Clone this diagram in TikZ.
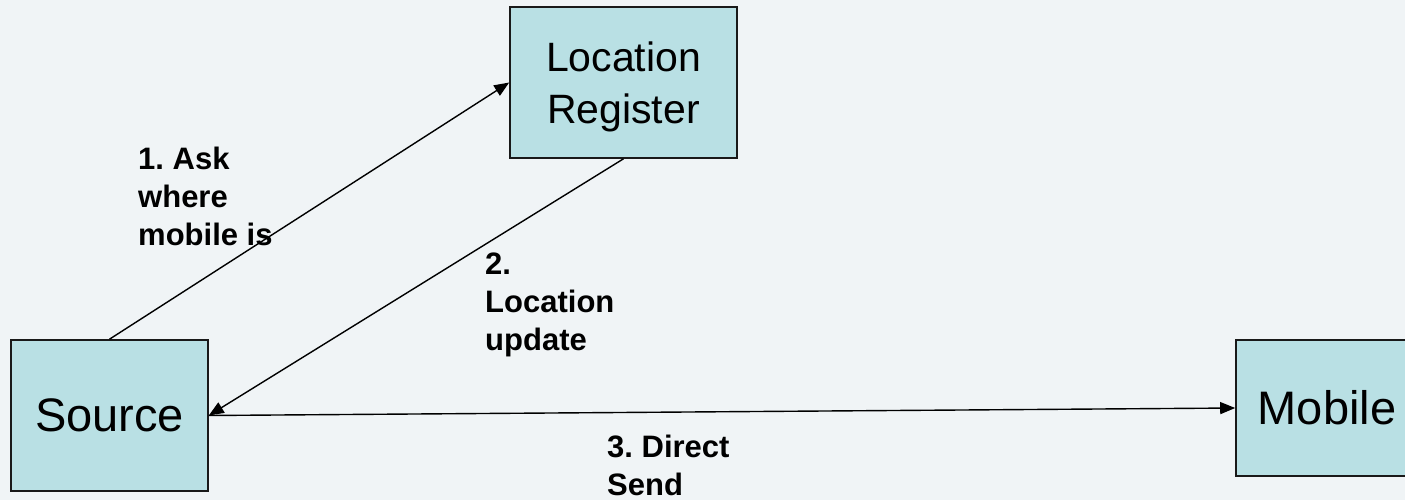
\documentclass[tikz,border=0pt]{standalone}
\usepackage{fontspec}
\setmainfont{Liberation Sans}
\usetikzlibrary{arrows.meta}
\definecolor{bgcol}{RGB}{240,244,246}
\definecolor{boxfill}{RGB}{185,224,228}
\frenchspacing
\begin{document}
\begin{tikzpicture}[x=1pt,y=-1pt,
  block/.style={draw=black!90, line width=1.6pt, fill=boxfill, inner sep=0pt,
    align=center, text=black},
  conn/.style={line width=1.4pt, -{Triangle[length=15pt,width=12pt]}},
  lbl/.style={anchor=north west, inner sep=0pt, align=left,
    font=\bfseries\fontsize{31}{38}\selectfont}]
  % canvas
  \fill[bgcol] (0,0) rectangle (1405,500);
  \useasboundingbox (0,0) rectangle (1405,500);
  \clip (0,0) rectangle (1405,500);

  % entities
  \node[block, minimum width=197pt, minimum height=151pt,
        font=\fontsize{47}{56}\selectfont] (src) at (109.5,415.5) {Source};
  \node[block, minimum width=227pt, minimum height=151pt,
        font=\fontsize{41}{52}\selectfont] (lr) at (623.5,82.5)
        {\rule{0pt}{39.5pt}Location\\Register};
  \node[block, minimum width=182pt, minimum height=136pt,
        font=\fontsize{47}{56}\selectfont] (mob) at (1327,408) {Mobile};

  % message flow
  \draw[conn] (src.north) -- (lr.west);
  \draw[conn] (lr.south) -- (src.east);
  \draw[conn] (src.east) -- (mob.west);

  % step labels
  \node[lbl] (l1) at (138,147) {1. Ask\\where\\mobile is};
  \node[lbl] (l2) at (485,253) {2.\\Location\\update};
  \node[lbl] (l3) at (607,435) {3. Direct\\Send};
\end{tikzpicture}
\end{document}
